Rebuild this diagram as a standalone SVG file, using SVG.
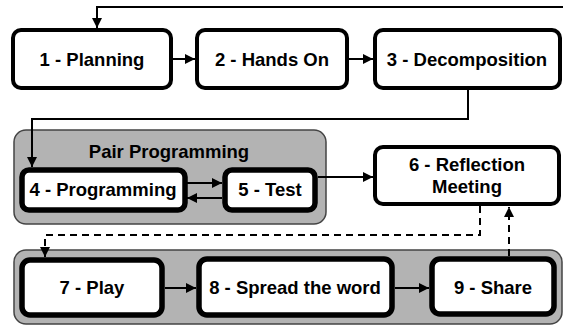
<svg xmlns="http://www.w3.org/2000/svg" width="563" height="326" viewBox="0 0 563 326">
  <defs>
    <marker id="arrow" viewBox="0 0 10 10" refX="10" refY="5" markerWidth="10" markerHeight="10" markerUnits="userSpaceOnUse" orient="auto">
      <path d="M0,0 L10,5 L0,10 z" fill="#000"/>
    </marker>
    <style>
      .group { fill: #b3b3b3; stroke: #444; stroke-width: 1.5; }
      .node { fill: #fff; stroke: #000; stroke-width: 4; }
      .inner { stroke-width: 5.5; }
      .label { font-family: "Liberation Sans", Arial, sans-serif; font-weight: bold; font-size: 18.5px; fill: #000; text-anchor: middle; }
      .edge { fill: none; stroke: #000; stroke-width: 2; marker-end: url(#arrow); }
      .dashed { stroke-dasharray: 7 5; }
    </style>
  </defs>

  <!-- containers -->
  <g id="pair-programming">
    <rect class="group" x="14" y="130" width="312" height="94" rx="12"/>
    <text class="label" x="169" y="158">Pair Programming</text>
  </g>
  <g id="release">
    <rect class="group" x="14" y="250" width="548" height="74" rx="12"/>
  </g>

  <!-- nodes -->
  <g id="n1">
    <rect class="node" x="13" y="30" width="158" height="58" rx="8"/>
    <text class="label" x="92" y="66">1 - Planning</text>
  </g>
  <g id="n2">
    <rect class="node" x="197" y="30" width="150" height="58" rx="8"/>
    <text class="label" x="272" y="66">2 - Hands On</text>
  </g>
  <g id="n3">
    <rect class="node" x="375" y="30" width="185" height="58" rx="8"/>
    <text class="label" x="467" y="66">3 - Decomposition</text>
  </g>
  <g id="n4">
    <rect class="node inner" x="22" y="170" width="163" height="40" rx="7"/>
    <text class="label" x="103" y="196">4 - Programming</text>
  </g>
  <g id="n5">
    <rect class="node inner" x="225" y="170" width="90" height="40" rx="7"/>
    <text class="label" x="270" y="196">5 - Test</text>
  </g>
  <g id="n6">
    <rect class="node" x="375" y="147" width="184" height="57" rx="8"/>
    <text class="label" x="467" y="171">6 - Reflection</text>
    <text class="label" x="467" y="193">Meeting</text>
  </g>
  <g id="n7">
    <rect class="node inner" x="22" y="260" width="140" height="55" rx="8"/>
    <text class="label" x="92" y="294">7 - Play</text>
  </g>
  <g id="n8">
    <rect class="node inner" x="199" y="259" width="193" height="56" rx="8"/>
    <text class="label" x="295" y="294">8 - Spread the word</text>
  </g>
  <g id="n9">
    <rect class="node inner" x="432" y="259" width="122" height="55" rx="8"/>
    <text class="label" x="493" y="294">9 - Share</text>
  </g>

  <!-- connectors -->
  <g id="edges">
    <path class="edge" d="M563,7 H97 V28"/>
    <path class="edge" d="M173,59 H195"/>
    <path class="edge" d="M349,59 H373"/>
    <path class="edge" d="M468,90 V119 H32 V167"/>
    <path class="edge" d="M187,183 H222"/>
    <path class="edge" d="M222,198 H187"/>
    <path class="edge" d="M318,177 H373"/>
    <path class="edge dashed" d="M480,206 V235 H45 V257"/>
    <path class="edge dashed" d="M509,256 V207"/>
    <path class="edge" d="M165,288 H196"/>
    <path class="edge" d="M395,288 H429"/>
  </g>
</svg>
